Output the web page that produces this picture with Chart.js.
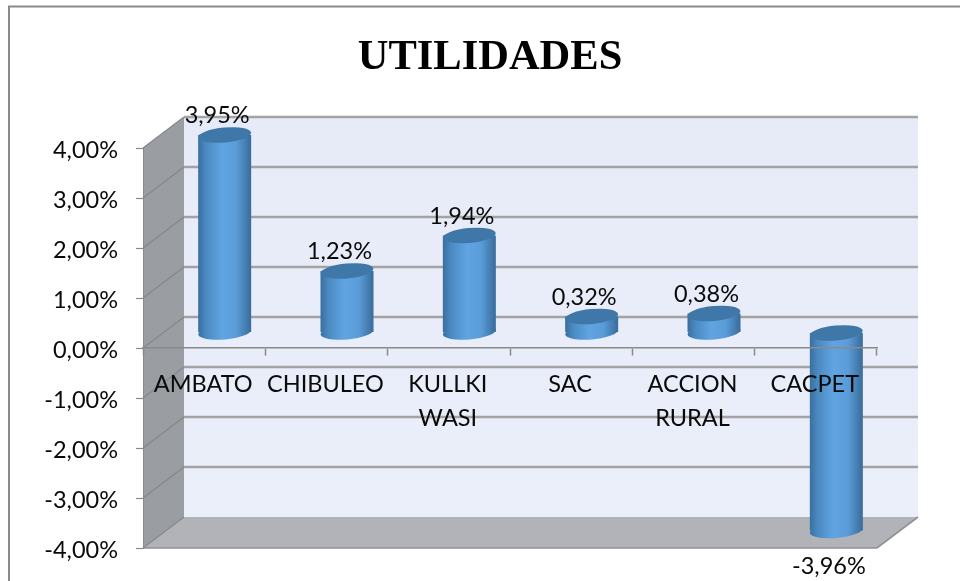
<!DOCTYPE html>
<html>
<head>
<meta charset="utf-8">
<style>html,body{margin:0;padding:0;background:#fff}canvas{display:block}</style>
<script src="https://cdn.jsdelivr.net/npm/chart.js@4"></script>
</head>
<body>
<canvas id="c" width="960" height="581"></canvas>
<script>
const categories = [["AMBATO"], ["CHIBULEO"], ["KULLKI", "WASI"], ["SAC"], ["ACCION", "RURAL"], ["CACPET"]];
const utilidades = [3.95, 1.23, 1.94, 0.32, 0.38, -3.96];
const valueLabels = ["3,95%", "1,23%", "1,94%", "0,32%", "0,38%", "-3,96%"];
const titleText = "UTILIDADES";
const fontFamily = "Lato, Carlito, 'Open Sans', sans-serif";
const FONT_SIZE = 23.5;
const CAT_PCT = 53 / 122.33;

// Oblique depth of the 3D box
const DX = 41, DY = -31;

const threeD = {
  id: 'threeD',
  afterLayout(chart) {
    // the title is centred on the canvas region around x=490
    chart.titleBlock.right = 980;
  },
  beforeDraw(chart) {
    const ctx = chart.ctx;
    ctx.save();
    ctx.fillStyle = '#fff';
    ctx.fillRect(0, 0, chart.width, chart.height);
    ctx.strokeStyle = '#8a8a8a';
    ctx.lineWidth = 2;
    ctx.beginPath();
    ctx.moveTo(9, 581); ctx.lineTo(9, 6.5); ctx.lineTo(960, 6.5);
    ctx.stroke();
    ctx.restore();
  },
  beforeDatasetsDraw(chart) {
    const { ctx, chartArea: a, scales: { y } } = chart;
    const L = a.left, R = a.right, T = a.top, B = a.bottom;
    ctx.save();
    // back wall
    const wg = ctx.createLinearGradient(0, T + DY, 0, B + DY);
    wg.addColorStop(0, '#e7ebf8');
    wg.addColorStop(1, '#ebeffa');
    ctx.fillStyle = wg;
    ctx.fillRect(L + DX, T + DY, R - L, B - T);
    // side wall
    ctx.fillStyle = '#9a9da1';
    ctx.beginPath();
    ctx.moveTo(L, T); ctx.lineTo(L + DX, T + DY); ctx.lineTo(L + DX, B + DY); ctx.lineTo(L, B);
    ctx.closePath(); ctx.fill();
    // floor
    ctx.fillStyle = '#b1b3b8';
    ctx.beginPath();
    ctx.moveTo(L, B); ctx.lineTo(L + DX, B + DY); ctx.lineTo(R + DX, B + DY); ctx.lineTo(R, B);
    ctx.closePath(); ctx.fill();
    // gridlines on both walls
    y.ticks.forEach(t => {
      const py = y.getPixelForValue(t.value);
      if (t.value > y.min) {
        ctx.strokeStyle = '#a3a3a3';
        ctx.lineWidth = 2.4;
        ctx.beginPath();
        ctx.moveTo(L + DX, py + DY); ctx.lineTo(R + DX, py + DY);
        ctx.stroke();
      }
      ctx.strokeStyle = '#85878a';
      ctx.lineWidth = 1.2;
      ctx.beginPath();
      ctx.moveTo(L, py); ctx.lineTo(L + DX, py + DY);
      ctx.stroke();
    });
    ctx.strokeStyle = '#8f9194';
    ctx.lineWidth = 1.6;
    ctx.beginPath();
    ctx.moveTo(L, B); ctx.lineTo(R, B); ctx.lineTo(R + DX, B + DY);
    ctx.stroke();
    ctx.restore();
  },
  beforeDatasetDraw(chart, args) {
    const ctx = chart.ctx;
    ctx.save();
    ctx.translate(DX / 2, DY / 2);
    // cylinder bottoms, drawn behind the Chart.js bars
    args.meta.data.forEach(el => {
      const bottom = Math.max(el.y, el.base);
      ctx.fillStyle = bodyGradient(ctx, el.x, el.width);
      ctx.beginPath();
      ctx.ellipse(el.x, bottom, el.width / 2, 7.5, -0.09, 0, Math.PI * 2);
      ctx.fill();
    });
  },
  afterDatasetDraw(chart, args) {
    const ctx = chart.ctx;
    args.meta.data.forEach(el => {
      const top = Math.min(el.y, el.base);
      ctx.fillStyle = '#3f77a9';
      ctx.beginPath();
      ctx.ellipse(el.x, top, el.width / 2, 7.5, -0.09, 0, Math.PI * 2);
      ctx.fill();
    });
    ctx.restore();
  },
  afterDraw(chart) {
    const ctx = chart.ctx;
    const meta = chart.getDatasetMeta(0);
    ctx.save();
    ctx.fillStyle = '#0a0a0a';
    ctx.font = FONT_SIZE + 'px ' + fontFamily;
    ctx.textAlign = 'center';
    ctx.textBaseline = 'middle';
    meta.data.forEach((el, i) => {
      const neg = utilidades[i] < 0;
      ctx.fillText(valueLabels[i], el.x + 13, el.y + (neg ? 20 : -35));
    });
    ctx.restore();
  }
};

function bodyGradient(ctx, x, w) {
  const g = ctx.createLinearGradient(x - w / 2, 0, x + w / 2, 0);
  g.addColorStop(0, '#3a6f9e');
  g.addColorStop(0.15, '#4a8ac2');
  g.addColorStop(0.45, '#60a4e2');
  g.addColorStop(0.72, '#5a9cd8');
  g.addColorStop(1, '#386c9a');
  return g;
}

new Chart(document.getElementById('c'), {
  type: 'bar',
  plugins: [threeD],
  data: {
    labels: categories,
    datasets: [{
      data: utilidades,
      barPercentage: 1,
      categoryPercentage: CAT_PCT,
      borderWidth: 0,
      backgroundColor: c => {
        const xs = c.chart.scales.x;
        if (!xs || !Number.isInteger(c.dataIndex)) return '#4f8fc8';
        const px = xs.getPixelForValue(c.dataIndex);
        const w = xs.width / categories.length * CAT_PCT;
        if (!Number.isFinite(px) || !Number.isFinite(w) || w <= 0) return '#4f8fc8';
        return bodyGradient(c.chart.ctx, px, w);
      }
    }]
  },
  options: {
    responsive: false,
    animation: false,
    events: [],
    layout: { padding: { left: 0, right: 83, top: 0, bottom: 33 } },
    plugins: {
      legend: { display: false },
      tooltip: { enabled: false },
      title: {
        display: true,
        text: titleText,
        color: '#000',
        font: { family: "'Liberation Serif', serif", size: 42.5, weight: 'bold', lineHeight: 1 },
        padding: { top: 37, bottom: 68.5 }
      }
    },
    scales: {
      x: {
        position: { y: 0 },
        offset: true,
        grid: { z: 1, drawOnChartArea: false, drawTicks: true, tickLength: 7, tickColor: '#8a8a8a', tickWidth: 1.5 },
        border: { z: 1, display: true, color: '#8a8a8a', width: 1.6 },
        ticks: {
          z: 1,
          color: '#0a0a0a',
          padding: 13,
          labelOffset: -1,
          maxRotation: 0,
          autoSkip: false,
          font: { family: fontFamily, size: FONT_SIZE, lineHeight: 1.42 }
        }
      },
      y: {
        min: -4,
        max: 4,
        afterFit: s => { s.width = 143; },
        grid: { z: 1, drawOnChartArea: false, tickLength: 7, tickColor: '#8a8a8a', tickWidth: 1.2 },
        border: { z: 1, display: true, color: '#8a8a8a', width: 1 },
        ticks: {
          stepSize: 1,
          color: '#0a0a0a',
          padding: 18,
          labelOffset: 2,
          font: { family: fontFamily, size: FONT_SIZE },
          callback: v => v.toFixed(2).replace('.', ',') + '%'
        }
      }
    }
  }
});
</script>
</body>
</html>
